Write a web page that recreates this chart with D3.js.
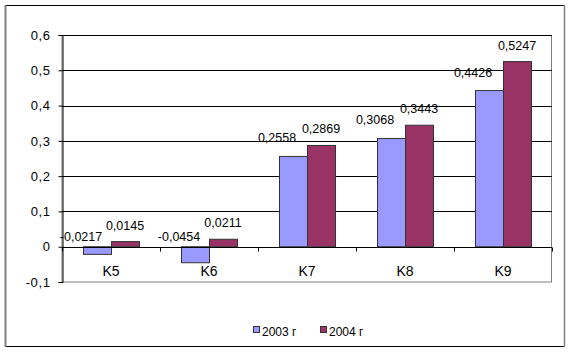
<!DOCTYPE html>
<html>
<head>
<meta charset="utf-8">
<script src="https://cdn.jsdelivr.net/npm/d3@7"></script>
<style>
  body { margin: 0; background: #fff; }
  svg text { font-family: "Liberation Sans", Arial, sans-serif; font-size: 12px; fill: #000; }
</style>
</head>
<body>
<div class="vis"></div>
<script>
const categories = ['K5', 'K6', 'K7', 'K8', 'K9'];
const series = ['2003 г', '2004 г'];
const values2003 = [-0.0217, -0.0454, 0.2558, 0.3068, 0.4426];
const values2004 = [0.0145, 0.0211, 0.2869, 0.3443, 0.5247];
const yTicks = [-0.1, 0, 0.1, 0.2, 0.3, 0.4, 0.5, 0.6];

const colors = ['#9999ff', '#993366'];
const fmt = v => String(v).replace('.', ',');
const tickFmt = v => (Math.round(v * 10) / 10).toString().replace('.', ',');

const margin = { top: 35, left: 62, right: 18, bottom: 72 };
const W = 570, H = 354;
const width = 552 - margin.left,
    height = 282 - margin.top;

let svg = d3.select('.vis')
    .append('svg')
    .attr('width', W)
    .attr('height', H);

// outer frame
svg.append('rect')
    .attr('x', 5.5).attr('y', 5.5)
    .attr('width', 559).attr('height', 341)
    .attr('fill', '#fff')
    .attr('stroke', '#000');
svg.append('line')
    .attr('x1', 5.5).attr('x2', 5.5).attr('y1', 5).attr('y2', 347)
    .attr('stroke', '#808080').attr('stroke-width', 2);
svg.append('line')
    .attr('x1', 564.5).attr('x2', 564.5).attr('y1', 5).attr('y2', 347)
    .attr('stroke', '#808080').attr('stroke-width', 1.5);

let g = svg.append('g')
    .attr('transform', 'translate(' + margin.left + ',' + margin.top + ')');

const x = d3.scaleBand()
    .domain(categories)
    .range([0, width])
    .paddingInner(0.4286)
    .paddingOuter(0.2143);

const xs = d3.scaleBand()
    .domain(series)
    .range([0, x.bandwidth()]);

const y = d3.scaleLinear()
    .domain([-0.1, 0.6])
    .range([height, 0]);

// plot area border
g.append('rect')
    .attr('x', 0).attr('y', 0.5)
    .attr('width', width - 0.5).attr('height', height - 0.5)
    .attr('fill', '#fff')
    .attr('stroke', '#808080');

// gridlines
g.append('g')
    .selectAll('line')
    .data(yTicks.filter(t => t > -0.1))
    .join('line')
    .attr('x1', 0).attr('x2', width)
    .attr('y1', d => Math.round(y(d)) + 0.5)
    .attr('y2', d => Math.round(y(d)) + 0.5)
    .attr('stroke', '#000');

// y axis
const yAxis = g.append('g')
    .attr('transform', 'translate(0.5,0)')
    .call(d3.axisLeft(y).tickValues(yTicks).tickFormat(tickFmt).tickSize(4).tickPadding(8));
yAxis.select('.domain').attr('stroke', '#000');
yAxis.selectAll('.tick line').attr('stroke', '#000');
yAxis.selectAll('text')
    .style('font-size', '13px')
    .style('letter-spacing', '0.6px')
    .attr('fill', '#000');

// bars
const rows = categories.map((c, i) => ({ cat: c, vals: [values2003[i], values2004[i]] }));

const groups = g.append('g')
    .selectAll('g')
    .data(rows)
    .join('g')
    .attr('transform', d => 'translate(' + x(d.cat) + ',0)');

groups.selectAll('rect')
    .data(d => d.vals.map((v, j) => ({ s: series[j], v: v, j: j })))
    .join('rect')
    .attr('x', d => xs(d.s) + 0.5)
    .attr('y', d => y(Math.max(0, d.v)))
    .attr('width', xs.bandwidth())
    .attr('height', d => Math.abs(y(d.v) - y(0)))
    .attr('fill', d => colors[d.j])
    .attr('stroke', '#333');

// x axis at zero
const xAxis = g.append('g')
    .attr('transform', 'translate(0,' + (Math.round(y(0)) + 0.5) + ')');
xAxis.append('line')
    .attr('x1', 0).attr('x2', width)
    .attr('stroke', '#000');
xAxis.selectAll('.tk')
    .data(d3.range(categories.length + 1))
    .join('line')
    .attr('x1', i => Math.round(i * x.step()) + 0.5)
    .attr('x2', i => Math.round(i * x.step()) + 0.5)
    .attr('y1', 0).attr('y2', 4)
    .attr('stroke', '#000');

g.append('g')
    .selectAll('text')
    .data(categories)
    .join('text')
    .attr('x', d => x(d) + x.bandwidth() / 2)
    .attr('y', y(0) + 29)
    .attr('text-anchor', 'middle')
    .style('font-size', '14px')
    .text(d => d);

// data labels
groups.selectAll('text')
    .data(d => d.vals.map((v, j) => ({ s: series[j], v: v, j: j })))
    .join('text')
    .attr('x', d => xs(d.s) + xs.bandwidth() / 2 + (d.j === 0 ? -16 : 0))
    .attr('y', d => y(Math.max(0, d.v)) - (d.j === 0 ? (d.v < 0 ? 6 : 14) : 12))
    .attr('text-anchor', 'middle')
    .style('font-size', '12.5px')
    .text(d => fmt(d.v));

// legend
const legend = svg.append('g')
    .attr('transform', 'translate(253,326)');
const items = legend.selectAll('g')
    .data(series)
    .join('g')
    .attr('transform', (d, i) => 'translate(' + (i * 67) + ',0)');
items.append('rect')
    .attr('x', 0.5).attr('y', 0.5)
    .attr('width', 6).attr('height', 6)
    .attr('fill', (d, i) => colors[i])
    .attr('stroke', '#333');
items.append('text')
    .attr('x', 9).attr('y', 10)
    .text(d => d);
</script>
</body>
</html>
